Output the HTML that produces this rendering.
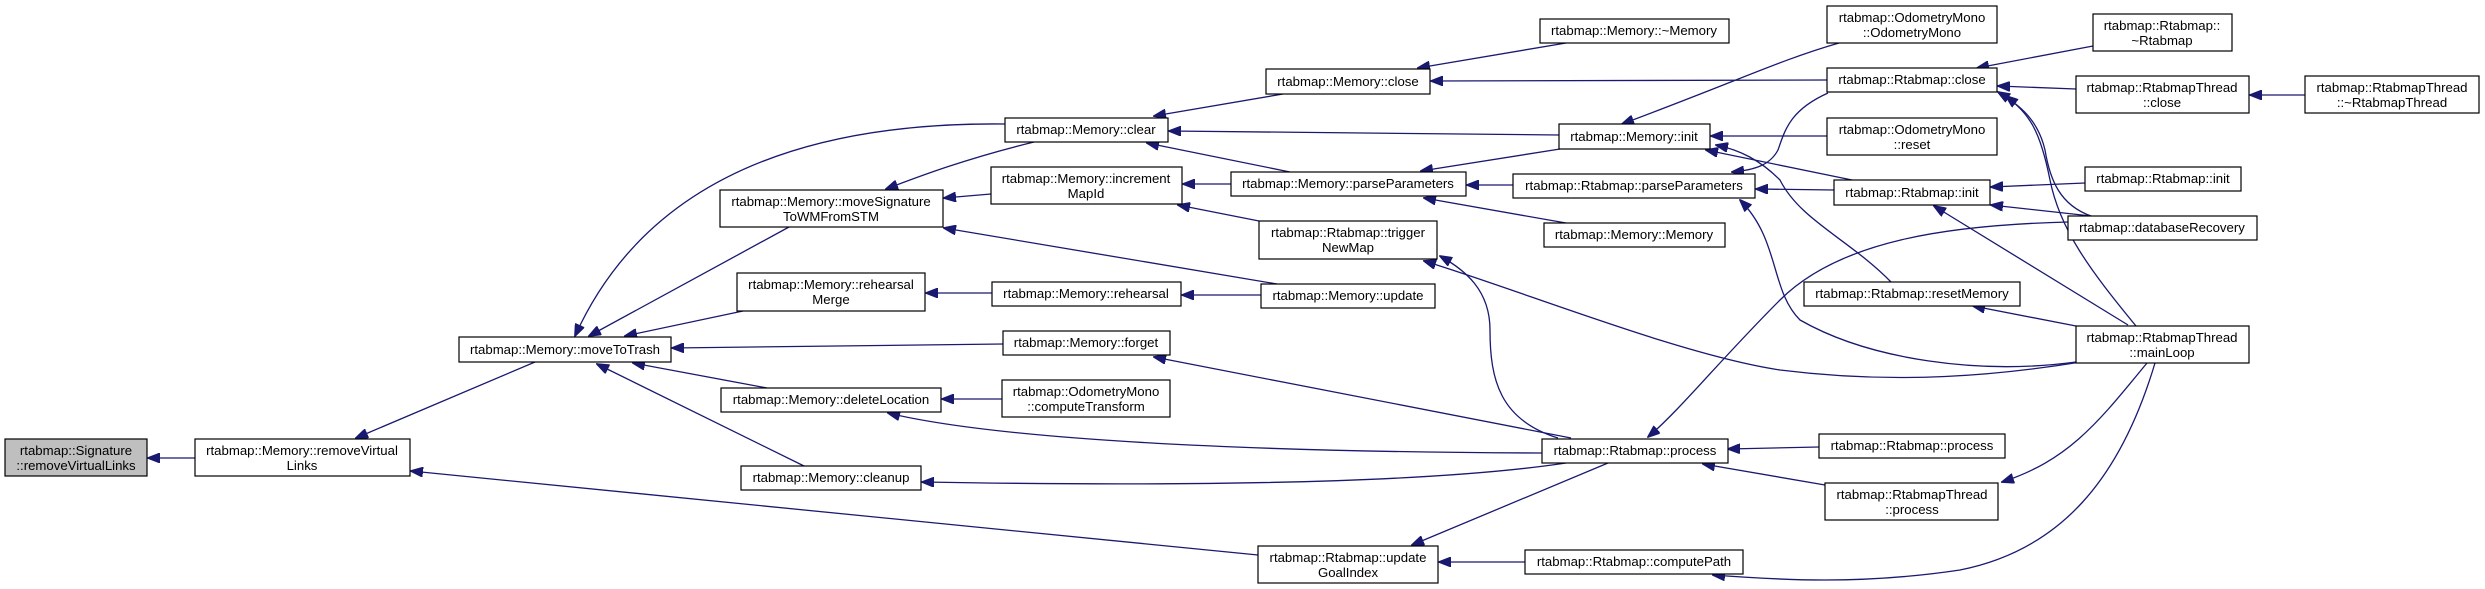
<!DOCTYPE html>
<html><head><meta charset="utf-8"><style>
html,body{margin:0;padding:0;background:#fff;}
svg{display:block;}
text{font-family:"Liberation Sans",Arial,sans-serif;font-size:13.2px;fill:#000;text-anchor:middle;}
rect{fill:#fff;stroke:#000;stroke-width:1.2;}
path{fill:none;stroke:#191970;stroke-width:1.3;}
</style></head><body>
<svg width="2485" height="589" viewBox="0 0 2485 589" xmlns="http://www.w3.org/2000/svg">
<defs><marker id="a" markerWidth="13" markerHeight="10" refX="12" refY="5" orient="auto" markerUnits="userSpaceOnUse"><path d="M0,0 L13,5 L0,10 Z" style="fill:#191970;stroke:#191970;stroke-width:1"/></marker></defs>
<g marker-end="url(#a)">
<path d="M195,458 L148,458"/>
<path d="M535,362 L356,438"/>
<path d="M1258,555 L411,471"/>
<path d="M1005,124 C820,122 650,170 575,336"/>
<path d="M789,227 L589,336"/>
<path d="M743,311 L625,336"/>
<path d="M1003,344 L672,348"/>
<path d="M767,388 L633,363"/>
<path d="M804,466 L597,364"/>
<path d="M1034,142 C960,160 910,180 886,189"/>
<path d="M991,194 L944,198"/>
<path d="M1277,284 L944,228"/>
<path d="M992,293 L926,293"/>
<path d="M1261,295 L1182,295"/>
<path d="M1002,399 L942,399"/>
<path d="M1542,453 C1250,452 1000,440 888,413"/>
<path d="M1566,463 C1420,485 1150,486 922,482"/>
<path d="M1571,438 L1154,357"/>
<path d="M1283,94 L1154,116"/>
<path d="M1559,135 L1169,131"/>
<path d="M1290,172 L1147,143"/>
<path d="M1231,184 L1183,184"/>
<path d="M1259,221 L1178,205"/>
<path d="M1558,438 C1500,420 1490,380 1490,330 C1490,290 1465,270 1440,256"/>
<path d="M2081,362 C2000,375 1900,385 1780,370 C1680,355 1520,290 1424,261"/>
<path d="M1566,43 L1418,68"/>
<path d="M1827,80 L1431,81"/>
<path d="M1560,149 L1421,171"/>
<path d="M1513,185 L1467,185"/>
<path d="M1566,223 L1424,198"/>
<path d="M1839,43 C1780,60 1740,80 1622,124"/>
<path d="M1827,136 L1711,136"/>
<path d="M1852,180 L1706,150"/>
<path d="M1891,282 C1850,240 1800,220 1780,180 C1760,160 1740,150 1716,145"/>
<path d="M1828,93 C1790,110 1785,130 1778,150 C1770,165 1755,170 1732,172"/>
<path d="M1834,190 L1756,189"/>
<path d="M2076,362 C1980,375 1870,360 1800,320 C1770,290 1780,240 1740,200"/>
<path d="M2093,46 L1977,68"/>
<path d="M2076,89 L1998,86"/>
<path d="M2091,216 C2060,205 2050,180 2045,150 C2038,120 2020,105 1998,92"/>
<path d="M2136,326 C2090,270 2060,230 2050,180 C2040,130 2030,115 2006,96"/>
<path d="M2085,183 L1991,187"/>
<path d="M2091,216 L1991,205"/>
<path d="M2128,325 L1934,206"/>
<path d="M2076,326 L1973,306"/>
<path d="M2068,222 C1950,225 1840,240 1780,300 C1720,360 1680,410 1648,437"/>
<path d="M1819,447 L1728,449"/>
<path d="M1825,485 L1703,464"/>
<path d="M2147,363 C2100,420 2070,460 2002,482"/>
<path d="M1608,463 L1412,545"/>
<path d="M1525,562 L1439,562"/>
<path d="M2155,363 C2120,480 2060,550 1960,570 C1860,585 1780,580 1713,575"/>
<path d="M2305,95 L2250,95"/>
</g>
<rect x="5" y="439" width="142" height="37" style="fill:#bfbfbf"/><text x="76" y="455">rtabmap::Signature</text><text x="76" y="470">::removeVirtualLinks</text>
<rect x="195" y="439" width="215" height="37"/><text x="302" y="455">rtabmap::Memory::removeVirtual</text><text x="302" y="470">Links</text>
<rect x="459" y="337" width="212" height="25"/><text x="565" y="354">rtabmap::Memory::moveToTrash</text>
<rect x="720" y="190" width="223" height="37"/><text x="831" y="206">rtabmap::Memory::moveSignature</text><text x="831" y="221">ToWMFromSTM</text>
<rect x="737" y="273" width="188" height="38"/><text x="831" y="289">rtabmap::Memory::rehearsal</text><text x="831" y="304">Merge</text>
<rect x="721" y="388" width="220" height="24"/><text x="831" y="404">rtabmap::Memory::deleteLocation</text>
<rect x="741" y="466" width="180" height="24"/><text x="831" y="482">rtabmap::Memory::cleanup</text>
<rect x="1005" y="118" width="163" height="24"/><text x="1086" y="134">rtabmap::Memory::clear</text>
<rect x="991" y="167" width="191" height="37"/><text x="1086" y="183">rtabmap::Memory::increment</text><text x="1086" y="198">MapId</text>
<rect x="992" y="282" width="189" height="24"/><text x="1086" y="298">rtabmap::Memory::rehearsal</text>
<rect x="1003" y="331" width="167" height="24"/><text x="1086" y="347">rtabmap::Memory::forget</text>
<rect x="1002" y="380" width="168" height="37"/><text x="1086" y="396">rtabmap::OdometryMono</text><text x="1086" y="411">::computeTransform</text>
<rect x="1266" y="69" width="164" height="25"/><text x="1348" y="86">rtabmap::Memory::close</text>
<rect x="1231" y="172" width="235" height="24"/><text x="1348" y="188">rtabmap::Memory::parseParameters</text>
<rect x="1259" y="221" width="178" height="38"/><text x="1348" y="237">rtabmap::Rtabmap::trigger</text><text x="1348" y="252">NewMap</text>
<rect x="1261" y="284" width="174" height="24"/><text x="1348" y="300">rtabmap::Memory::update</text>
<rect x="1258" y="546" width="180" height="37"/><text x="1348" y="562">rtabmap::Rtabmap::update</text><text x="1348" y="577">GoalIndex</text>
<rect x="1542" y="439" width="186" height="24"/><text x="1635" y="455">rtabmap::Rtabmap::process</text>
<rect x="1540" y="19" width="189" height="24"/><text x="1634" y="35">rtabmap::Memory::~Memory</text>
<rect x="1559" y="124" width="151" height="25"/><text x="1634" y="141">rtabmap::Memory::init</text>
<rect x="1513" y="174" width="242" height="24"/><text x="1634" y="190">rtabmap::Rtabmap::parseParameters</text>
<rect x="1544" y="223" width="181" height="24"/><text x="1634" y="239">rtabmap::Memory::Memory</text>
<rect x="1525" y="550" width="218" height="24"/><text x="1634" y="566">rtabmap::Rtabmap::computePath</text>
<rect x="1827" y="6" width="170" height="37"/><text x="1912" y="22">rtabmap::OdometryMono</text><text x="1912" y="37">::OdometryMono</text>
<rect x="1827" y="68" width="170" height="24"/><text x="1912" y="84">rtabmap::Rtabmap::close</text>
<rect x="1827" y="118" width="170" height="37"/><text x="1912" y="134">rtabmap::OdometryMono</text><text x="1912" y="149">::reset</text>
<rect x="1834" y="180" width="156" height="25"/><text x="1912" y="197">rtabmap::Rtabmap::init</text>
<rect x="1804" y="282" width="216" height="24"/><text x="1912" y="298">rtabmap::Rtabmap::resetMemory</text>
<rect x="1819" y="434" width="186" height="24"/><text x="1912" y="450">rtabmap::Rtabmap::process</text>
<rect x="1825" y="483" width="173" height="37"/><text x="1912" y="499">rtabmap::RtabmapThread</text><text x="1912" y="514">::process</text>
<rect x="2093" y="14" width="139" height="37"/><text x="2162" y="30">rtabmap::Rtabmap::</text><text x="2162" y="45">~Rtabmap</text>
<rect x="2076" y="76" width="173" height="37"/><text x="2162" y="92">rtabmap::RtabmapThread</text><text x="2162" y="107">::close</text>
<rect x="2085" y="167" width="156" height="24"/><text x="2163" y="183">rtabmap::Rtabmap::init</text>
<rect x="2068" y="216" width="189" height="24"/><text x="2162" y="232">rtabmap::databaseRecovery</text>
<rect x="2076" y="326" width="173" height="37"/><text x="2162" y="342">rtabmap::RtabmapThread</text><text x="2162" y="357">::mainLoop</text>
<rect x="2305" y="76" width="174" height="37"/><text x="2392" y="92">rtabmap::RtabmapThread</text><text x="2392" y="107">::~RtabmapThread</text>
</svg>
</body></html>
